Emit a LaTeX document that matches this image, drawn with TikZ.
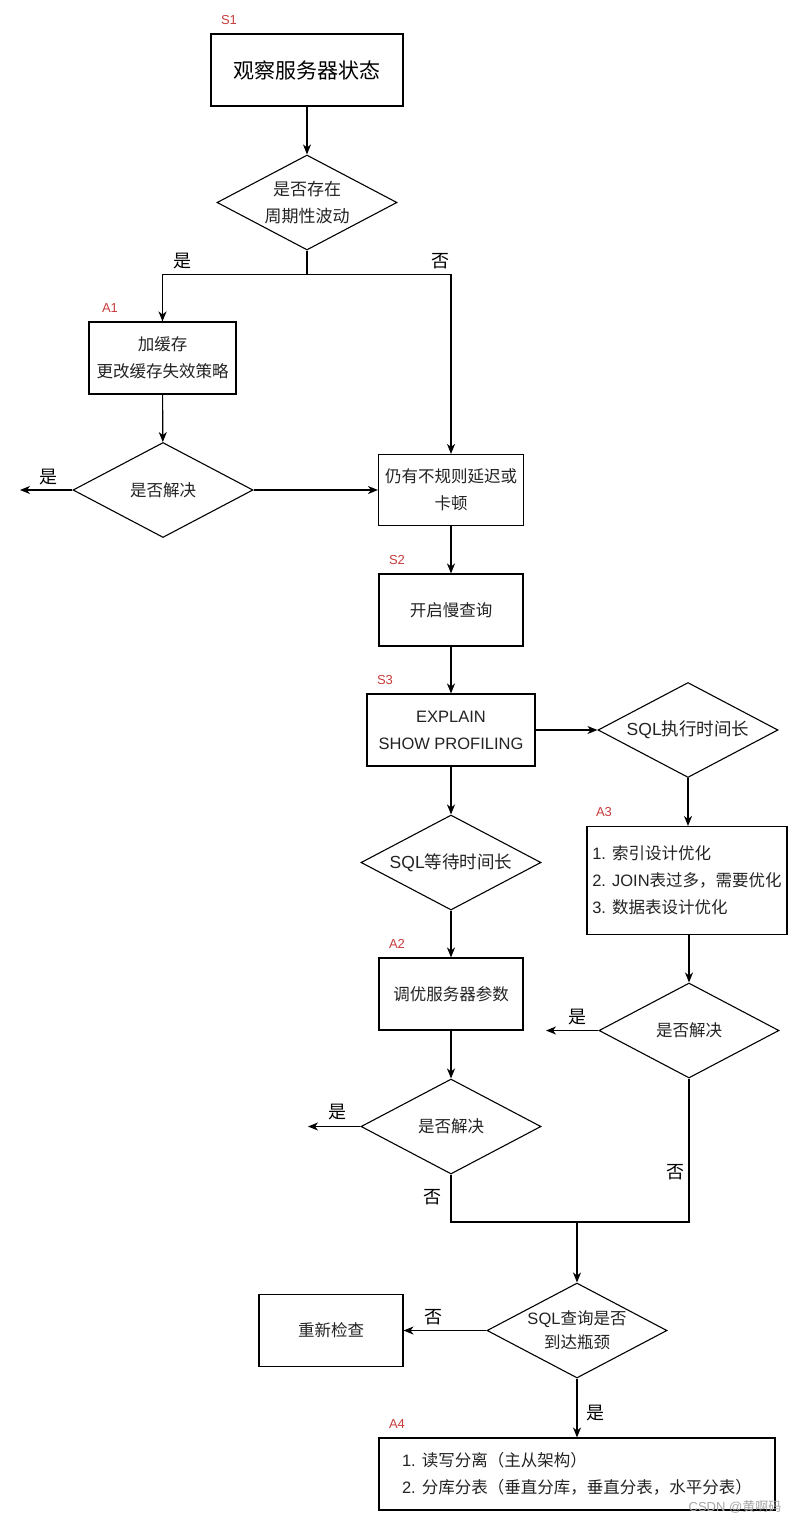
\documentclass[tikz,border=0pt]{standalone}
\usepackage{fontspec}
\setmainfont{Noto Sans CJK SC}
\newfontfamily\lat{Liberation Sans}
\usetikzlibrary{shapes.geometric,arrows.meta}
\definecolor{lblred}{RGB}{200,60,60}
\definecolor{txtgray}{RGB}{35,35,35}
\newcommand\fsmain{\fontsize{16.5}{27}\selectfont}
\begin{document}
\begin{tikzpicture}[x=1pt,y=-1pt,
  every path/.style={line width=1.1pt},
  box/.style={draw, rectangle, inner sep=0pt, align=center, font=\fsmain, text=txtgray},
  dia/.style={draw, diamond, aspect=1.9, inner sep=0pt, minimum width=180, minimum height=95, align=center, font=\fsmain, text=txtgray},
  arr/.style={-{Stealth[length=10pt,width=8pt,inset=3pt]}},
  tag/.style={font=\lat\fontsize{13}{15}\selectfont, text=lblred},
  yn/.style={font=\fontsize{18}{20}\selectfont, text=black}
]
\fill[white] (0,0) rectangle (800,1523);
\useasboundingbox (0,0) rectangle (800,1523);

% nodes
\node[box, minimum width=192, minimum height=72, font=\fontsize{21}{26}\selectfont, text=black] (s1) at (307,70) {观察服务器状态};
\node[dia, font=\fontsize{17}{27}\selectfont] (d1) at (307,202.5) {是否存在\\周期性波动};
\node[box, minimum width=147, minimum height=72] (a1) at (162.5,358) {加缓存\\更改缓存失效策略};
\node[dia] (d2) at (163,490) {是否解决};
\node[box, minimum width=145, minimum height=71] (irr) at (451,490) {仍有不规则延迟或\\卡顿};
\node[box, minimum width=144, minimum height=72] (s2) at (451,610) {开启慢查询};
\node[box, minimum width=168, minimum height=72] (s3) at (451,730) {{\lat EXPLAIN}\\{\lat SHOW PROFILING}};
\node[dia, font=\fontsize{17.5}{27}\selectfont] (d3) at (688,730) {{\lat SQL}执行时间长};
\node[dia, font=\fontsize{17.5}{27}\selectfont] (d4) at (451,862.5) {{\lat SQL}等待时间长};
\node[box, minimum width=144, minimum height=72] (a2) at (451,994) {调优服务器参数};
\node[dia] (d5) at (451,1126.5) {是否解决};
\node[box, minimum width=200, minimum height=108, align=left] (a3) at (687,880.5)
  {{\lat 1. }索引设计优化\\{\lat 2. JOIN}表过多，需要优化\\{\lat 3. }数据表设计优化};
\node[dia] (d6) at (689,1030.5) {是否解决};
\node[dia, font=\fontsize{16.5}{24}\selectfont] (d7) at (577,1330.5) {{\lat SQL}查询是否\\到达瓶颈};
\node[box, minimum width=144, minimum height=72] (rc) at (331,1330.5) {重新检查};
\node[box, minimum width=396, minimum height=72, align=left] (a4) at (577,1474)
  {{\lat 1. }读写分离（主从架构）\\{\lat 2. }分库分表（垂直分库，垂直分表，水平分表）};

% coordinates for free ends
\coordinate (e1) at (20,490);
\coordinate (e2) at (308,1126.5);
\coordinate (e3) at (546,1030.5);
\coordinate (m) at (577,1222);

% connectors
\draw[arr] (s1) -- (d1);
\draw[arr] (d1.south) -- ++(0,24) -| (a1.north);
\draw[arr] (d1.south) -- ++(0,24) -| (irr.north);
\draw[arr] (a1) -- (d2);
\draw[arr] (d2.west) -- (e1);
\draw[arr] (d2.east) -- (irr.west);
\draw[arr] (irr) -- (s2);
\draw[arr] (s2) -- (s3);
\draw[arr] (s3.east) -- (d3.west);
\draw[arr] (s3) -- (d4);
\draw[arr] (d4) -- (a2);
\draw[arr] (a2) -- (d5);
\draw[arr] (d3.south) -- (d3.south |- a3.north);
\draw[arr] (a3.south -| d6.north) -- (d6.north);
\draw[arr] (d5.west) -- (e2);
\draw[arr] (d6.west) -- (e3);
\draw (d5.south) |- (m) -| (d6.south);
\draw[arr] (m) -- (d7.north);
\draw[arr] (d7.west) -- (rc.east);
\draw[arr] (d7.south) -- (a4.north);

% yes/no labels
\node[yn] at (182,261) {是};
\node[yn] at (440,261) {否};
\node[yn] at (48,477) {是};
\node[yn] at (337,1112) {是};
\node[yn] at (432,1197) {否};
\node[yn] at (577,1017) {是};
\node[yn] at (675,1172) {否};
\node[yn] at (433,1317) {否};
\node[yn] at (595,1413) {是};

% step tags
\node[tag] at (229,20) {S1};
\node[tag] at (110,308) {A1};
\node[tag] at (397,560) {S2};
\node[tag] at (385,680) {S3};
\node[tag] at (604,812) {A3};
\node[tag] at (397,944) {A2};
\node[tag] at (397,1424) {A4};

% watermark
\node[font=\fontsize{13}{15}\selectfont, text=black!35] at (735,1507) {{\lat CSDN @}黄啊码};
\end{tikzpicture}
\end{document}
